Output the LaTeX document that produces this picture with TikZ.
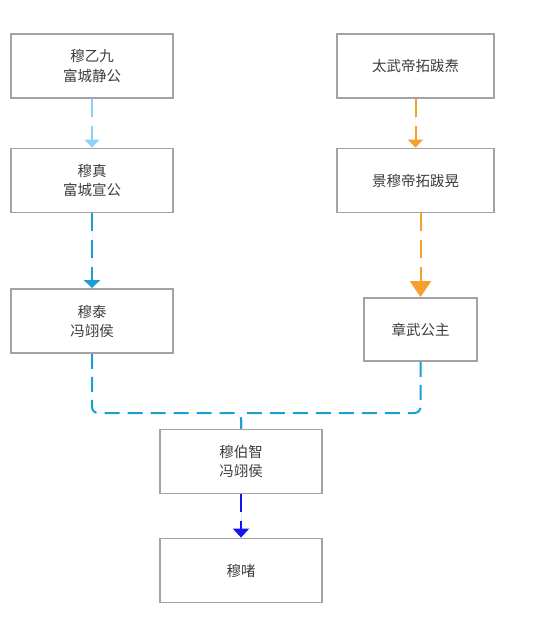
\documentclass[tikz,border=0pt]{standalone}
\usepackage{fontspec}
\setmainfont{Noto Sans CJK SC}
\usepackage{tikz}
\usetikzlibrary{arrows.meta}
\usetikzlibrary{positioning}
\definecolor{boxgray}{HTML}{A3A3A3}
\definecolor{txtgray}{HTML}{3C3C3C}
\definecolor{skyline}{HTML}{8DD3F7}
\definecolor{cyanline}{HTML}{1A9FD3}
\definecolor{orangeline}{HTML}{F5A02A}
\definecolor{blueline}{HTML}{1414F0}

\begin{document}
\begin{tikzpicture}[x=1pt,y=-1pt,
  person/.style={draw=boxgray, line width=1.8pt, minimum width=162pt, minimum height=64pt,
    align=center, text=txtgray, font=\fontsize{14.5pt}{19pt}\selectfont, inner sep=0pt},
  link/.style={line width=2pt, dash pattern=on 18pt off 9pt},
  tip/.style={-{Triangle[width=15pt,length=8pt]}}]
 \useasboundingbox (0,0) rectangle (536,620);

 % left line
 \node[person] (yijiu) at (92,66) {穆乙九\\富城静公};
 \node[person] (zhen) at (92,180.5) {穆真\\富城宣公};
 \node[person] (tai) at (92,321) {穆泰\\冯翊侯};

 % right line
 \node[person, minimum width=157pt] (tao) at (415.5,66) {太武帝拓跋焘};
 \node[person, minimum width=157pt] (huang) at (415.5,180.5) {景穆帝拓跋晃};
 \node[person, minimum width=113pt, minimum height=63pt] (zhangwu) at (420.5,329.5) {章武公主};

 % children
 \node[person] (bozhi) at (241,461.5) {穆伯智\\冯翊侯};
 \node[person] (zhe) at (241,570.5) {穆啫};

 \draw[link, tip, draw=skyline, fill=skyline] (yijiu) -- (zhen);
 \draw[link, draw=cyanline, -{Triangle[width=16pt,length=8pt]}, fill=cyanline] (zhen) -- (tai);
 \draw[link, tip, draw=orangeline, fill=orangeline] (tao) -- (huang);
 \draw[link, draw=orangeline, -{Triangle[width=21pt,length=16pt]}, fill=orangeline] (huang.south -| zhangwu.north) -- (zhangwu);
 \draw[link, draw=blueline, -{Triangle[width=16pt,length=9pt]}, fill=blueline] (bozhi) -- (zhe);

 % marriage
 \coordinate (meet) at (241,413);
 \draw[link, draw=cyanline, dash pattern=on 15pt off 8pt, rounded corners=6pt]
   (tai.south) |- (meet) -- (bozhi.north);
 \draw[link, draw=cyanline, dash pattern=on 15pt off 8pt, rounded corners=6pt]
   (zhangwu.south) |- (meet) -- (bozhi.north);

\end{tikzpicture}
\end{document}
